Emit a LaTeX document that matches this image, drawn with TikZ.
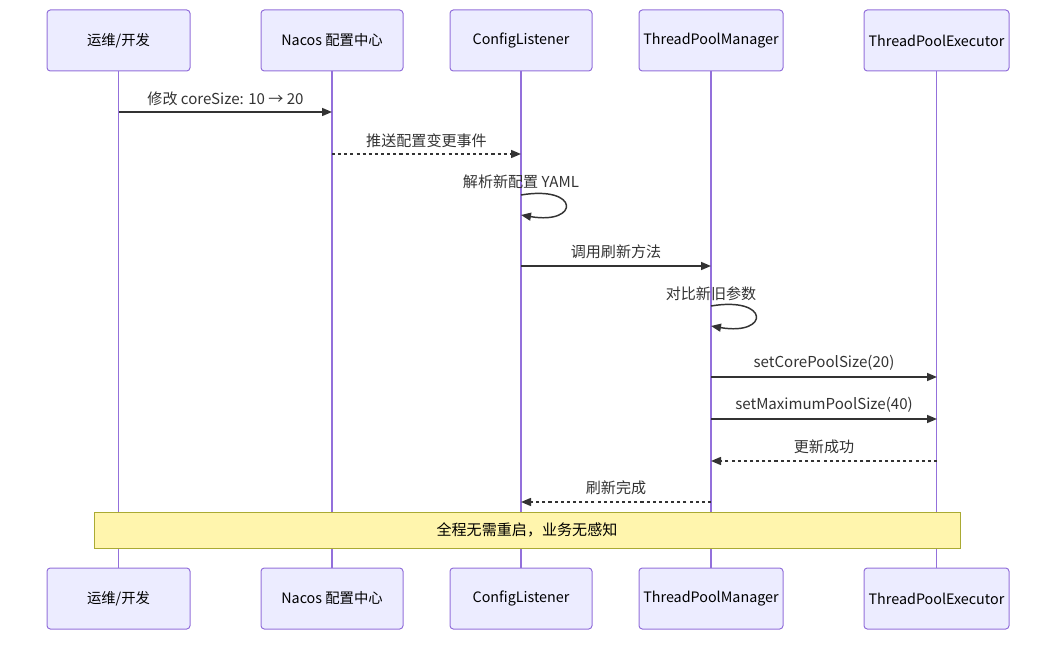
\documentclass[tikz,border=0pt]{standalone}
\usepackage{fontspec}
\setmainfont{Noto Sans CJK SC}
\usetikzlibrary{arrows.meta}
\definecolor{actfill}{HTML}{ECECFF}
\definecolor{actline}{HTML}{9370DB}
\definecolor{msgline}{HTML}{333333}
\definecolor{notefill}{HTML}{FFF5AD}
\definecolor{noteline}{HTML}{AAAA33}
\tikzset{
  actor/.style={draw=actline, fill=actfill, line width=0.75pt, rounded corners=2.5pt,
    minimum height=61*0.75pt, inner sep=0pt, font=\fontsize{10.75pt}{12pt}\selectfont, text=black},
  life/.style={draw=actline, line width=1.4pt},
  msg/.style={draw=msgline, line width=1.1pt, -{Triangle[length=7.5pt,width=6pt]}},
  reply/.style={msg, dash pattern=on 2.3pt off 2.3pt},
  lbl/.style={font=\fontsize{11.3pt}{13pt}\selectfont, text=msgline, inner sep=0pt},
  notebox/.style={draw=noteline, fill=notefill, line width=0.75pt, inner sep=0pt,
    font=\fontsize{11.3pt}{13pt}\selectfont, text=black}
}
\begin{document}
\begin{tikzpicture}[x=0.75pt, y=-0.75pt]
\useasboundingbox (0,0) rectangle (1064,645);
% top actors
\node[actor, minimum width=143*0.75pt] (a1) at (118.5,40.5) {运维/开发};
\node[actor, minimum width=142*0.75pt] (a2) at (332,40.5) {Nacos 配置中心};
\node[actor, minimum width=142*0.75pt] (a3) at (521,40.5) {ConfigListener};
\node[actor, minimum width=144*0.75pt] (a4) at (711,40.5) {ThreadPoolManager};
\node[actor, minimum width=145*0.75pt] (a5) at (936.5,40.5) {ThreadPoolExecutor};
% bottom actors
\node[actor, minimum width=143*0.75pt] (b1) at (118.5,598.5) {运维/开发};
\node[actor, minimum width=142*0.75pt] (b2) at (332,598.5) {Nacos 配置中心};
\node[actor, minimum width=142*0.75pt] (b3) at (521,598.5) {ConfigListener};
\node[actor, minimum width=144*0.75pt] (b4) at (711,598.5) {ThreadPoolManager};
\node[actor, minimum width=145*0.75pt] (b5) at (936.5,598.5) {ThreadPoolExecutor};
% lifelines
\foreach \i in {1,...,5} {\draw[life] (a\i.south) -- (b\i.north);}
% messages
\coordinate (m1s) at (119,112); \coordinate (m1e) at (332,112);
\draw[msg] (m1s) -- (m1e);
\node[lbl] (t1) at (225.5,99) {修改 coreSize: 10 → 20};

\coordinate (m2s) at (332,154); \coordinate (m2e) at (521,154);
\draw[reply] (m2s) -- (m2e);
\node[lbl] (t2) at (426.5,141) {推送配置变更事件};

\coordinate (m3s) at (521,195); \coordinate (m3e) at (521,215);
\draw[msg] (m3s) .. controls (580,185) and (580,225) .. (m3e);
\node[lbl] (t3) at (521,182) {解析新配置 YAML};

\coordinate (m4s) at (521,266); \coordinate (m4e) at (711,266);
\draw[msg] (m4s) -- (m4e);
\node[lbl] (t4) at (616,252) {调用刷新方法};

\coordinate (m5s) at (711,306); \coordinate (m5e) at (711,326);
\draw[msg] (m5s) .. controls (770,296) and (770,336) .. (m5e);
\node[lbl] (t5) at (711,294) {对比新旧参数};

\coordinate (m6s) at (711,377); \coordinate (m6e) at (937,377);
\draw[msg] (m6s) -- (m6e);
\node[lbl] (t6) at (824,363) {setCorePoolSize(20)};

\coordinate (m7s) at (711,419); \coordinate (m7e) at (937,419);
\draw[msg] (m7s) -- (m7e);
\node[lbl] (t7) at (824,405) {setMaximumPoolSize(40)};

\coordinate (m8s) at (937,461); \coordinate (m8e) at (711,461);
\draw[reply] (m8s) -- (m8e);
\node[lbl] (t8) at (824,447) {更新成功};

\coordinate (m9s) at (711,502); \coordinate (m9e) at (521,502);
\draw[reply] (m9s) -- (m9e);
\node[lbl] (t9) at (616,488) {刷新完成};

% note
\node[notebox, minimum width=866*0.75pt, minimum height=36*0.75pt] (note) at (527,530) {全程无需重启，业务无感知};
\end{tikzpicture}
\end{document}
